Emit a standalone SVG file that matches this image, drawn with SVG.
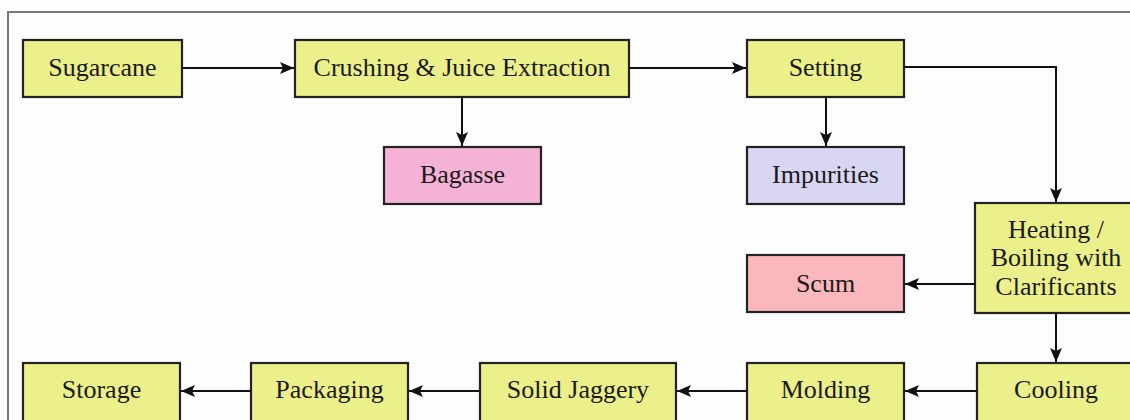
<svg xmlns="http://www.w3.org/2000/svg" width="1130" height="420" viewBox="0 0 1130 420">
<defs>
<marker id="ah" markerWidth="14" markerHeight="12" refX="14" refY="6" orient="auto" markerUnits="userSpaceOnUse">
<path d="M0,0 L14,6 L0,12 L3,6 Z" fill="#111"/>
</marker>
</defs>
<style>
.b{stroke:#222;stroke-width:2.2}
.y{fill:#ecf08a}
.t{font-family:"Liberation Serif","Times New Roman",serif;font-size:26px;fill:#1a1a1a;text-anchor:middle;dominant-baseline:central}
.c{fill:none;stroke:#111;stroke-width:2;marker-end:url(#ah)}
</style>
<rect width="1130" height="420" fill="#fdfdfd"/>
<rect x="8" y="12" width="1140" height="430" fill="none" stroke="#777" stroke-width="2"/>
<g id="sugarcane"><rect class="b y" x="23" y="40" width="159" height="57"/><text class="t" x="102.5" y="67">Sugarcane</text></g>
<g id="crushing"><rect class="b y" x="295" y="40" width="334" height="57"/><text class="t" x="462" y="67">Crushing &amp; Juice Extraction</text></g>
<g id="setting"><rect class="b y" x="747" y="40" width="157" height="57"/><text class="t" x="825.5" y="67">Setting</text></g>
<g id="bagasse"><rect class="b" fill="#f4b2d6" x="384" y="147" width="157" height="57"/><text class="t" x="462.5" y="174">Bagasse</text></g>
<g id="impurities"><rect class="b" fill="#d8d6f2" x="747" y="147" width="157" height="57"/><text class="t" x="825.5" y="174">Impurities</text></g>
<g id="heating"><rect class="b y" x="975" y="203" width="162" height="110"/><text class="t" x="1056" y="229">Heating /</text><text class="t" x="1056" y="257">Boiling with</text><text class="t" x="1056" y="286">Clarificants</text></g>
<g id="scum"><rect class="b" fill="#fbb8bc" x="747" y="255" width="157" height="57"/><text class="t" x="825.5" y="283">Scum</text></g>
<g id="cooling"><rect class="b y" x="977" y="363" width="160" height="60"/><text class="t" x="1056" y="389">Cooling</text></g>
<g id="molding"><rect class="b y" x="747" y="363" width="157" height="60"/><text class="t" x="825.5" y="389">Molding</text></g>
<g id="solid"><rect class="b y" x="480" y="363" width="196" height="60"/><text class="t" x="578" y="389">Solid Jaggery</text></g>
<g id="packaging"><rect class="b y" x="251" y="363" width="157" height="60"/><text class="t" x="329.5" y="389">Packaging</text></g>
<g id="storage"><rect class="b y" x="23" y="363" width="157" height="60"/><text class="t" x="101.5" y="389">Storage</text></g>
<g id="connectors">
<path class="c" d="M182,68 H294"/>
<path class="c" d="M629,68 H746"/>
<path class="c" d="M462,97 V146"/>
<path class="c" d="M826,97 V146"/>
<path class="c" d="M904,67 H1056 V202"/>
<path class="c" d="M975,284 H905"/>
<path class="c" d="M1056,313 V362"/>
<path class="c" d="M977,391 H905"/>
<path class="c" d="M747,391 H677"/>
<path class="c" d="M480,391 H409"/>
<path class="c" d="M251,391 H181"/>
</g>
</svg>
